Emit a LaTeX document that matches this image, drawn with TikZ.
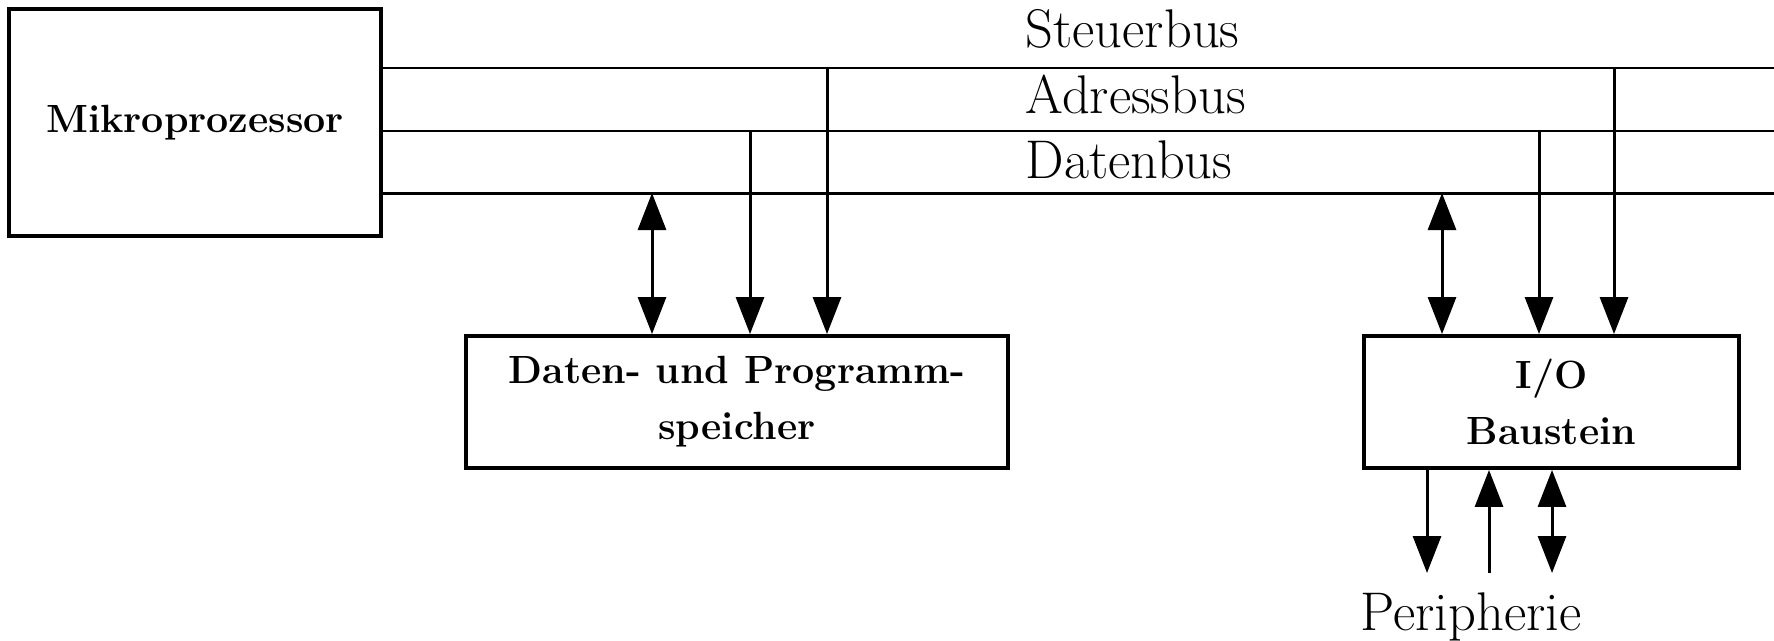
\documentclass[tikz,border=0pt]{standalone}
\usepackage{tikz}
\usetikzlibrary{arrows.meta,positioning}
\tikzset{
  unit/.style={draw, line width=1.1pt, font=\fontsize{11.2}{16}\selectfont\bfseries, align=center, inner sep=0pt},
  bus/.style={line width=0.85pt},
  sig/.style={line width=0.85pt, -{Triangle[length=3.7mm,width=2.8mm]}},
  sigb/.style={line width=0.85pt, {Triangle[length=3.7mm,width=2.8mm]}-{Triangle[length=3.7mm,width=2.8mm]}},
  buslab/.style={font=\fontsize{15.5}{18}\selectfont, anchor=base west, inner sep=0pt},
}

\begin{document}
\begin{tikzpicture}[x=0.1mm, y=-0.1mm]
\useasboundingbox (0,0) rectangle (1774,640);

% units
\node[unit, minimum width=37.2mm, minimum height=22.7mm] (cpu) at (195,122.5) {Mikroprozessor};
\node[unit, minimum width=54.2mm, minimum height=13.2mm] (mem) at (737,402) {Daten- und Programm-\\speicher};
\node[unit, minimum width=37.5mm, minimum height=13.2mm] (io) at (1551.5,402) {I/O\\Baustein};

% the three buses
\coordinate (sR) at (1774,68);
\coordinate (aR) at (1774,131);
\coordinate (dR) at (1774,193);
\draw[bus] (cpu.east |- sR) -- (sR);
\draw[bus] (cpu.east |- aR) -- (aR);
\draw[bus] (cpu.east |- dR) -- (dR);

\node[buslab] (lsteuer) at (1025,47) {Steuerbus};
\node[buslab] (ladress) at (1025,113) {Adressbus};
\node[buslab] (ldaten) at (1025,178) {Datenbus};

% memory taps
\coordinate (m1) at (652,193);
\coordinate (m2) at (750,131);
\coordinate (m3) at (827,68);
\draw[sigb] (m1) -- (m1 |- mem.north);
\draw[sig] (m2) -- (m2 |- mem.north);
\draw[sig] (m3) -- (m3 |- mem.north);

% I/O taps
\coordinate (i1) at (1442,193);
\coordinate (i2) at (1539,131);
\coordinate (i3) at (1614,68);
\draw[sigb] (i1) -- (i1 |- io.north);
\draw[sig] (i2) -- (i2 |- io.north);
\draw[sig] (i3) -- (i3 |- io.north);

% periphery side
\coordinate (p1) at (1427,573);
\coordinate (p2) at (1489,573);
\coordinate (p3) at (1552,573);
\draw[sig] (io.south -| p1) -- (p1);
\draw[sig] (p2) -- (io.south -| p2);
\draw[sigb] (io.south -| p3) -- (p3);

\node[font=\fontsize{15.5}{18}\selectfont, anchor=base, inner sep=0pt] (per) at (1471,630) {Peripherie};
\end{tikzpicture}
\end{document}
